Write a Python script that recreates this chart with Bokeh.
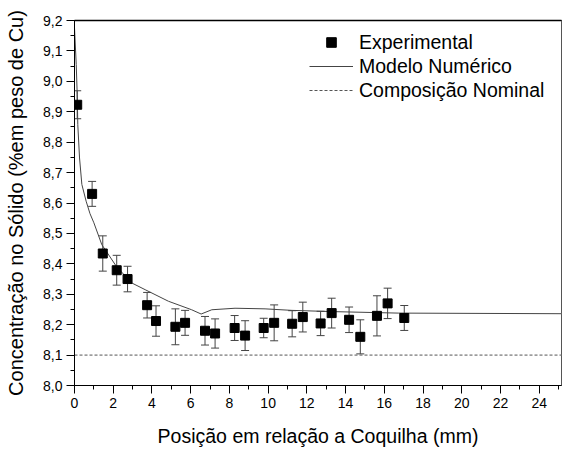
from bokeh.plotting import figure
from bokeh.models import (ColumnDataSource, Whisker, TeeHead, Range1d, FixedTicker,
                          CustomJSTickFormatter, Legend, LegendItem, Span, LinearAxis)
from bokeh.embed import file_html
from bokeh.resources import INLINE

# Experimental data
exp_x = [0.14, 0.91, 1.46, 2.18, 2.74, 3.75, 4.21, 5.21, 5.71, 6.74, 7.26, 8.27,
         8.81, 9.77, 10.31, 11.24, 11.79, 12.71, 13.28, 14.18, 14.76, 15.62, 16.17, 17.03]
exp_y = [8.923, 8.630, 8.434, 8.379, 8.350, 8.264, 8.212, 8.193, 8.206, 8.180, 8.171, 8.189,
         8.164, 8.189, 8.206, 8.203, 8.225, 8.204, 8.238, 8.216, 8.160, 8.229, 8.270, 8.222]
exp_err = [0.046, 0.041, 0.058, 0.049, 0.042, 0.042, 0.050, 0.059, 0.041, 0.047, 0.048, 0.041,
           0.049, 0.032, 0.059, 0.043, 0.049, 0.040, 0.049, 0.042, 0.056, 0.066, 0.050, 0.041]

# Numerical model
model_x = [0.0, 0.09, 0.14, 0.17, 0.26, 0.38, 0.6, 0.8, 1.0, 1.41, 2.18, 2.96, 3.65, 4.85,
           6.05, 6.54, 7.09, 8.29, 9.84, 11.22, 13.28, 16.72, 25.2]
model_y = [9.176, 9.055, 8.957, 8.858, 8.748, 8.661, 8.606, 8.565, 8.535, 8.463, 8.390, 8.337,
           8.315, 8.277, 8.249, 8.235, 8.249, 8.254, 8.252, 8.247, 8.243, 8.238, 8.236]

# Nominal composition
nominal_value = 8.1
nominal_x = [0.0, 25.2]
nominal_y = [nominal_value, nominal_value]

# Ticks
x_ticks = [0, 2, 4, 6, 8, 10, 12, 14, 16, 18, 20, 22, 24]
x_minor = [1, 3, 5, 7, 9, 11, 13, 15, 17, 19, 21, 23, 25]
y_ticks = [8.0, 8.1, 8.2, 8.3, 8.4, 8.5, 8.6, 8.7, 8.8, 8.9, 9.0, 9.1, 9.2]
y_minor = [8.05, 8.15, 8.25, 8.35, 8.45, 8.55, 8.65, 8.75, 8.85, 8.95, 9.05, 9.15]

FONT = "Liberation Sans"

p = figure(width=562, height=449, output_backend="svg", toolbar_location=None,
           x_range=Range1d(0, 25.15), y_range=Range1d(8.0, 9.2),
           min_border_left=74, min_border_right=1, min_border_top=20, min_border_bottom=64)
p.grid.visible = False
p.outline_line_color = "black"
p.outline_line_width = 1
p.background_fill_color = "white"
p.border_fill_color = "white"

bottom = p.below[0]
left = p.left[0]

# top frame line drawn as a bare axis with no ticks
top_axis = LinearAxis(ticker=FixedTicker(ticks=[], minor_ticks=[]), major_tick_out=0, major_tick_in=0,
                      minor_tick_out=0, minor_tick_in=0,
                      axis_line_color="black", axis_line_width=1.5)
p.add_layout(top_axis, "above")
p.add_layout(Span(location=25.15, dimension="height", line_color="#aaaaaa", line_width=1))

src = ColumnDataSource(dict(x=exp_x, y=exp_y,
                            lo=[a - b for a, b in zip(exp_y, exp_err)],
                            hi=[a + b for a, b in zip(exp_y, exp_err)]))

nom = p.line(nominal_x, nominal_y, line_color="#555555", line_width=1, line_dash="3 2")
mod = p.line(model_x, model_y, line_color="#444444", line_width=1)

w = Whisker(source=src, base="x", lower="lo", upper="hi", line_color="#444444", line_width=1,
            upper_head=TeeHead(size=8, line_color="#444444", line_width=1),
            lower_head=TeeHead(size=8, line_color="#444444", line_width=1))
p.add_layout(w)
sc = p.scatter("x", "y", source=src, marker="square", size=9, fill_color="black", line_color="black")

# Axes
bottom.ticker = FixedTicker(ticks=x_ticks, minor_ticks=x_minor)
left.ticker = FixedTicker(ticks=y_ticks, minor_ticks=y_minor)
left.formatter = CustomJSTickFormatter(code="return tick.toFixed(1).replace('.', ',');")
bottom.formatter = CustomJSTickFormatter(code="return Math.round(tick).toString();")

for ax in (bottom, left):
    ax.axis_line_color = "black"
    ax.major_tick_line_color = "black"
    ax.minor_tick_line_color = "black"
    ax.major_tick_in = 0
    ax.major_tick_out = 8
    ax.minor_tick_in = 0
    ax.minor_tick_out = 4
    ax.major_label_text_font = FONT
    ax.major_label_text_font_size = "14px"
    ax.major_label_text_color = "black"
    ax.axis_label_text_font = FONT
    ax.axis_label_text_font_style = "normal"
    ax.axis_label_text_color = "black"
    ax.major_label_standoff = 4

bottom.axis_label = "Posição em relação a Coquilha (mm)"
left.axis_label = "Concentração no Sólido (%em peso de Cu)"
bottom.axis_label_text_font_size = "19.5px"
left.axis_label_text_font_size = "20px"
bottom.axis_label_standoff = 14
left.axis_label_standoff = 13

legend = Legend(items=[LegendItem(label="Experimental", renderers=[sc]),
                       LegendItem(label="Modelo Numérico", renderers=[mod]),
                       LegendItem(label="Composição Nominal", renderers=[nom])],
                location=(235, 283))
legend.border_line_color = None
legend.background_fill_alpha = 0
legend.padding = 0
legend.margin = 0
legend.spacing = 0
legend.glyph_width = 44
legend.glyph_height = 24
legend.label_height = 24
legend.label_standoff = 6
legend.label_text_font = FONT
legend.label_text_font_size = "19.5px"
legend.label_text_color = "black"
p.add_layout(legend, "center")

open("out.html", "w").write(file_html(p, INLINE))
